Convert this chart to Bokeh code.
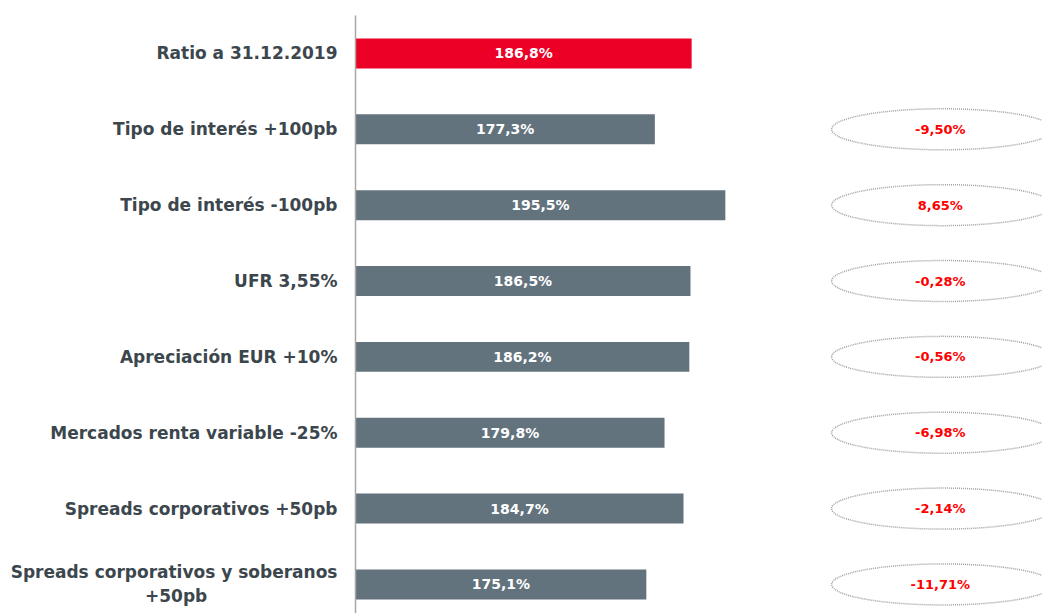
from bokeh.plotting import figure
from bokeh.models import Range1d, FixedTicker, ColumnDataSource
from bokeh.core.properties import value
from bokeh.embed import file_html
from bokeh.resources import INLINE

NB = "\u00a0"
categories = [
    "Ratio a 31.12.2019",
    "Tipo de interés +100pb",
    "Tipo de interés -100pb",
    "UFR 3,55%",
    "Apreciación EUR +10%",
    "Mercados renta variable -25%",
    "Spreads corporativos +50pb",
    "Spreads corporativos y soberanos\n+50pb" + NB * 22,
]
ratios = [186.8, 177.3, 195.5, 186.5, 186.2, 179.8, 184.7, 175.1]
changes = [-9.50, 8.65, -0.28, -0.56, -6.98, -2.14, -11.71]

RED = "#ec0026"
GREY = "#62737e"
TEXT = "#3c464d"
FONT = "DejaVu Sans"

pos = list(range(len(categories)))
bar_src = ColumnDataSource(dict(
    y=pos,
    right=ratios,
    mid=[(100 + r) / 2 for r in ratios],
    label=[f"{r:.1f}".replace(".", ",") + "%" for r in ratios],
    color=[RED] + [GREY] * (len(ratios) - 1),
))
chg_src = ColumnDataSource(dict(
    y=pos[1:],
    label=[f"{c:.2f}".replace(".", ",") + "%" for c in changes],
))

p = figure(width=1042, height=613, output_backend="svg", toolbar_location=None,
           x_range=Range1d(100, 277.4), y_range=Range1d(7.383, -0.5),
           min_border_left=355, min_border_right=0, min_border_top=15, min_border_bottom=0)
p.outline_line_color = None
p.xgrid.visible = False
p.ygrid.visible = False
p.xaxis.visible = False

ya = p.yaxis[0]
ya.ticker = FixedTicker(ticks=pos)
ya.major_label_overrides = {i: c for i, c in zip(pos, categories)}
ya.major_tick_line_color = None
ya.minor_tick_line_color = None
ya.axis_line_color = "#a6a6a6"
ya.axis_line_width = 1.5
ya.major_label_standoff = 12
ya.major_label_text_font = FONT
ya.major_label_text_font_style = "bold"
ya.major_label_text_font_size = "17px"
ya.major_label_text_color = TEXT

p.hbar(y="y", left=100, right="right", height=0.395, fill_color="color",
       line_color=None, source=bar_src)
p.text(x="mid", y="y", text="label", source=bar_src, text_align="center",
       text_baseline="middle", text_color="white", text_font=value(FONT),
       text_font_style="bold", text_font_size="14px")

p.ellipse(x=251.6, y="y", width=222, height=41, width_units="screen",
          height_units="screen", fill_color=None, line_color="#a0a0a0",
          line_dash="1 1", line_width=1.5, source=chg_src)
p.text(x=251.0, y="y", text="label", source=chg_src, text_align="center",
       text_baseline="middle", text_color="#ff0000", text_font=value(FONT),
       text_font_style="bold", text_font_size="13px")

open("out.html", "w").write(file_html(p, INLINE))
